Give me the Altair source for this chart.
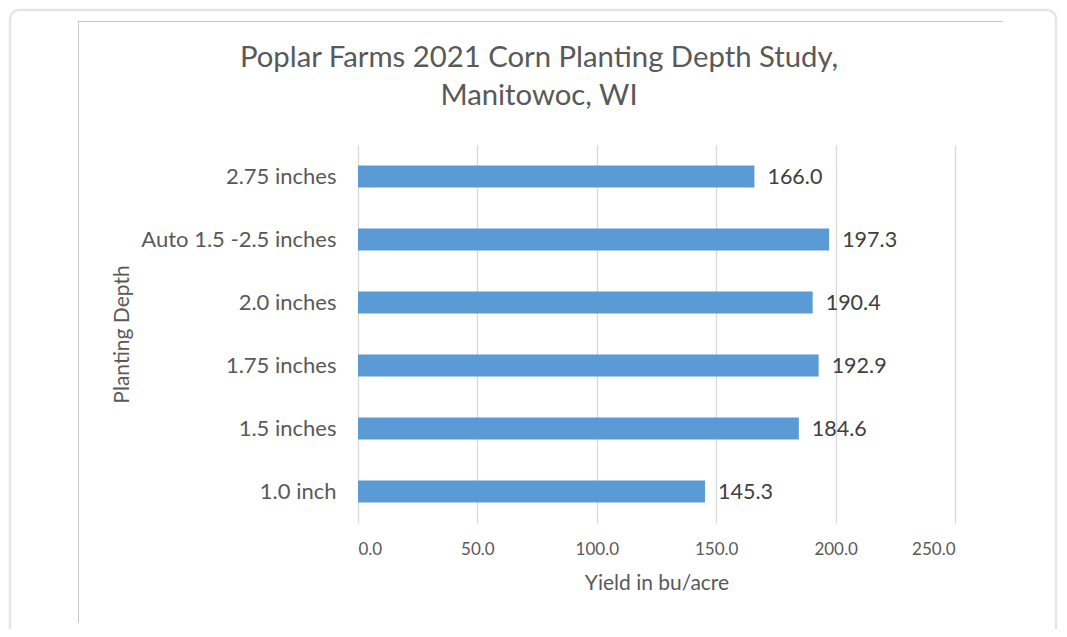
import altair as alt
import pandas as pd

categories = ["2.75 inches", "Auto 1.5 -2.5 inches", "2.0 inches", "1.75 inches", "1.5 inches", "1.0 inch"]
yields = [166.0, 197.3, 190.4, 192.9, 184.6, 145.3]
x_ticks = [0, 50, 100, 150, 200, 250]
title_lines = ["Poplar Farms 2021 Corn Planting Depth Study,", "Manitowoc, WI"]

df = pd.DataFrame({"depth": categories, "yield": yields})

FONT = "Lato"

y_enc = alt.Y(
    "depth:N",
    sort=categories,
    scale=alt.Scale(paddingInner=0.65, paddingOuter=0.325),
    axis=alt.Axis(
        title="Planting Depth",
        labelFontSize=22,
        labelColor="#595959",
        labelFont=FONT,
        labelPadding=22,
        labelLimit=400,
        ticks=False,
        domain=False,
        titleFontSize=21,
        titleFont=FONT,
        titleFontWeight="normal",
        titleColor="#595959",
        titleAngle=-90,
        titleAlign="center",
        titleBaseline="middle",
        titleX=-236,
    ),
)

x_enc = alt.X(
    "yield:Q",
    scale=alt.Scale(domain=[0, 250], nice=False),
    axis=alt.Axis(
        title="Yield in bu/acre",
        values=x_ticks,
        format=".1f",
        labelFontSize=17,
        labelFont=FONT,
        labelColor="#595959",
        labelPadding=18,
        ticks=False,
        domain=False,
        grid=True,
        gridColor="#d9d9d9",
        gridWidth=1.3,
        titleFontSize=21,
        titleFont=FONT,
        titleFontWeight="normal",
        titleColor="#595959",
        titleBaseline="middle",
        titleY=60,
    ),
)

bars = alt.Chart(df).mark_bar(color="#5B9BD5").encode(x=x_enc, y=y_enc)

labels = alt.Chart(df).mark_text(
    align="left", baseline="middle", dx=13, dy=1, fontSize=21.5, font=FONT, color="#404040"
).encode(x="yield:Q", y=alt.Y("depth:N", sort=categories), text=alt.Text("yield:Q", format=".1f"))

frame_src = alt.Data(values=[{"k": 1}])
outer = alt.Chart(frame_src).mark_rect(
    fillOpacity=0, stroke="#e6e6e6", strokeWidth=2.5, cornerRadius=9
).encode(x=alt.value(-348), x2=alt.value(698), y=alt.value(-135), y2=alt.value(500))
left_line = alt.Chart(frame_src).mark_rule(color="#c8c8c8", strokeWidth=1).encode(
    x=alt.value(-279.5), y=alt.value(-124), y2=alt.value(478)
)
top_line = alt.Chart(frame_src).mark_rule(color="#c8c8c8", strokeWidth=1).encode(
    x=alt.value(-280), x2=alt.value(645), y=alt.value(-123.5)
)

title = alt.Chart(frame_src).mark_text(
    text=title_lines,
    fontSize=29.3,
    font=FONT,
    color="#595959",
    align="center",
    baseline="alphabetic",
    lineHeight=38,
).encode(x=alt.value(181), y=alt.value(-78))

chart = alt.layer(outer, left_line, top_line, title, bars, labels).properties(
    width=597,
    height=378,
    autosize=alt.AutoSizeParams(type="none"),
    padding={"left": 350, "top": 137, "right": 104, "bottom": 106},
    background="white",
).configure_view(stroke=None)

chart.save("out.html", embed_options={"renderer": "svg", "actions": False})
